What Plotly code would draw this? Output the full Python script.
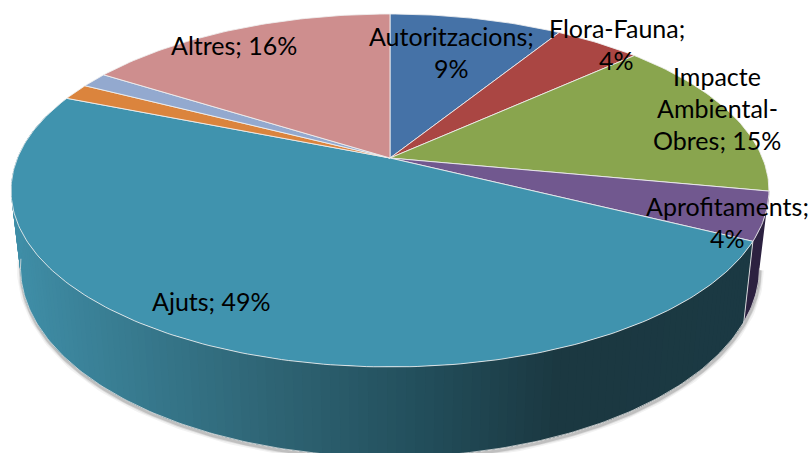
import numpy as np
import plotly.graph_objects as go

# ---- data (percent shares) ----
categories = ["Autoritzacions", "Flora-Fauna", "Impacte Ambiental-Obres", "Aprofitaments",
              "Ajuts", "Altres A", "Altres B", "Altres"]
values = [8.8, 4.4, 14.8, 4.4, 48.7, 1.5, 1.4, 16.0]
label_lines = [["Autoritzacions;", "9%"], ["Flora-Fauna;", "4%"],
               ["Impacte", "Ambiental-", "Obres; 15%"], ["Aprofitaments;", "4%"],
               ["Ajuts; 49%"], [], [], ["Altres; 16%"]]

# ---- styles ----
top_colors = ["#4572A7", "#AA4643", "#89A54E", "#71588F", "#4093AE", "#DB843D", "#93A9CF", "#CE8E8E"]
label_anchor = [(451, 36, 32), (616.5, 28, 32), (717, 76, 32), (727, 206, 32),
                (211, 301, 32), None, None, (234, 45, 32)]
CX, CY, A, B, K = 390.0, 158.0, 372.5, 170.5, 0.184
wall_stops_x = [15, 100, 270, 420, 560, 760]
wall_stops_c = [(64, 143, 168), (58, 128, 150), (47, 101, 117), (35, 79, 92), (27, 56, 65), (28, 58, 68)]


def top_pt(t):
    w = 1 + K * np.cos(t)
    return CX + A * np.sin(t) / w, CY - B * np.cos(t) / w


def bot_pt(t):
    x, y = top_pt(t)
    return CX + (x - CX) * 0.975, y + 77 + 13 * (y - 190) / 177


def wall_color(x):
    c = [np.interp(x, wall_stops_x, [s[i] for s in wall_stops_c]) for i in range(3)]
    return "rgb(%d,%d,%d)" % tuple(c)


fig = go.Figure()
edges = np.cumsum([0] + values) / 100 * 2 * np.pi
EDGE = "rgba(240,240,240,0.85)"

ajuts_end, aprof_end, aprof_start = edges[5], edges[4], edges[3]

# soft shadow under the lower rim
ts = np.linspace(aprof_start, np.radians(262), 200)
bx, by = bot_pt(ts)
for width, alpha in [(8, 0.05), (5, 0.08), (3, 0.14)]:
    fig.add_trace(go.Scatter(x=bx + 0.5, y=by + 2, mode="lines",
                             line=dict(color="rgba(0,0,0,%s)" % alpha, width=width),
                             hoverinfo="skip", showlegend=False))

# side wall: purple part, then the teal part as a stepped gradient (each band overlaps the next)
ts = np.linspace(aprof_start, aprof_end, 12)
tx, ty = top_pt(ts)
bx, by = bot_pt(ts)
fig.add_trace(go.Scatter(x=np.r_[tx, bx[::-1]], y=np.r_[ty, by[::-1]], fill="toself", mode="lines",
                         fillcolor="#2C2140", line=dict(color="#2C2140", width=0.5),
                         hoverinfo="skip", showlegend=False))
ts = np.linspace(aprof_end, np.radians(285), 141)
for k in range(len(ts) - 1):
    seg = ts[k:k + 4]
    tx, ty = top_pt(seg)
    bx, by = bot_pt(seg)
    col = wall_color((tx[:2].mean() + bx[:2].mean()) / 2)
    fig.add_trace(go.Scatter(x=np.r_[tx, bx[::-1]], y=np.r_[ty, by[::-1]], fill="toself", mode="none",
                             fillcolor=col, hoverinfo="skip", showlegend=False))

# lower rim highlight and the wall seam
ts = np.linspace(aprof_start, np.radians(262), 200)
bx, by = bot_pt(ts)
fig.add_trace(go.Scatter(x=bx, y=by, mode="lines", line=dict(color="rgba(225,225,225,0.8)", width=1),
                         hoverinfo="skip", showlegend=False))
tx, ty = top_pt(aprof_end)
bx, by = bot_pt(aprof_end)
fig.add_trace(go.Scatter(x=[tx, bx], y=[ty, by], mode="lines", line=dict(color=EDGE, width=1),
                         hoverinfo="skip", showlegend=False))

# top face slices
for i, name in enumerate(categories):
    n = max(int(values[i] * 4), 8)
    ts = np.linspace(edges[i], edges[i + 1], n)
    x, y = top_pt(ts)
    fig.add_trace(go.Scatter(x=np.r_[CX, x, CX], y=np.r_[CY, y, CY], fill="toself", mode="lines",
                             fillcolor=top_colors[i], line=dict(color=EDGE, width=1),
                             name=name, text="%s: %s%%" % (name, values[i]), hoverinfo="text",
                             showlegend=False))

annotations = []
for lines, pos in zip(label_lines, label_anchor):
    if not pos:
        continue
    x0, y0, step = pos
    for j, line in enumerate(lines):
        annotations.append(dict(x=x0, y=y0 + j * step, text=line, showarrow=False,
                                xanchor="center", yanchor="middle",
                                font=dict(family="Lato", size=25, color="#000000")))

fig.update_layout(width=811, height=453, margin=dict(l=0, r=0, t=0, b=0),
                  paper_bgcolor="white", plot_bgcolor="white", showlegend=False,
                  annotations=annotations,
                  xaxis=dict(range=[0, 811], visible=False, fixedrange=True),
                  yaxis=dict(range=[453, 0], visible=False, fixedrange=True))
fig.write_html("out.html", config=dict(displayModeBar=False),
               post_script="document.body.style.margin='0';document.documentElement.style.overflow='hidden';")
